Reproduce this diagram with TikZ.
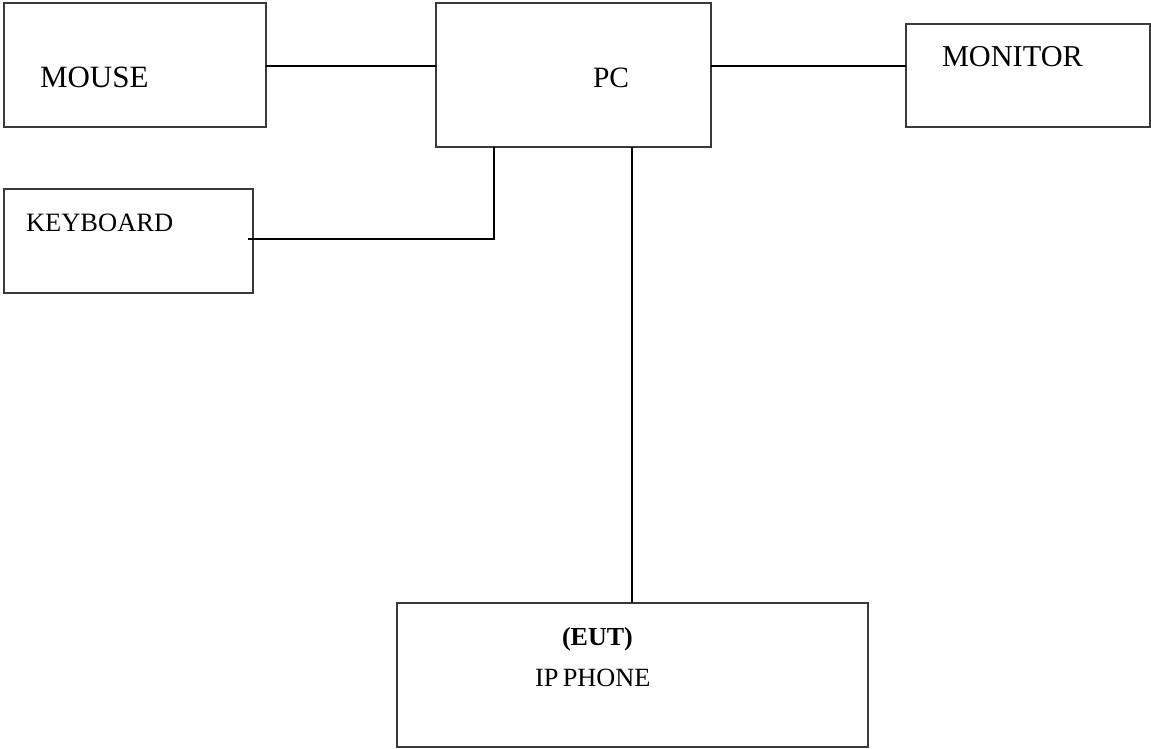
\documentclass[tikz,border=0pt]{standalone}
\usepackage{fontspec}
\setmainfont{Liberation Serif}
\definecolor{boxgray}{HTML}{3A3A3A}
\begin{document}
\begin{tikzpicture}[x=1pt,y=-1pt,
  box/.style={draw=boxgray, line width=1.3pt, inner sep=0pt, outer sep=0pt},
  lbl/.style={inner sep=0pt, outer sep=0pt, anchor=base west, text=black},
  wire/.style={draw=black, line width=1.4pt}]
\useasboundingbox (0,0) rectangle (1151,749);
% boxes
\node[box, minimum width=262pt, minimum height=124pt] (mouse) at (135,65) {};
\node[box, minimum width=275pt, minimum height=144pt] (pc) at (573.5,75) {};
\node[box, minimum width=244pt, minimum height=103pt] (monitor) at (1028,75.5) {};
\node[box, minimum width=249pt, minimum height=104pt] (kb) at (128.5,241) {};
\node[box, line width=1.9pt, minimum width=471pt, minimum height=144pt] (phone) at (632.5,675) {};
% labels
\node[lbl, font=\fontsize{31}{31}\selectfont] (mousetxt) at (40,88) {MOUSE};
\node[lbl, font=\fontsize{29.5}{30}\selectfont] (pctxt) at (593,88) {PC};
\node[lbl, font=\fontsize{30.3}{30}\selectfont] (montxt) at (942,67) {MONITOR};
\node[lbl, font=\fontsize{26.5}{27}\selectfont] (kbtxt) at (26,231) {KEYBOARD};
\node[lbl, font=\fontsize{26}{27}\selectfont\bfseries] (euttxt) at (562,645) {(EUT)};
\node[lbl, font=\fontsize{26.3}{27}\selectfont] (phonetxt) at (535,686) {IP\,PHONE};
% connector coordinates
\coordinate (wy) at (0,66);
\coordinate (kbj) at (494,239);
\coordinate (kbend) at (248,239);
\coordinate (phx) at (632,0);
% connectors
\draw[wire] (mouse.east |- wy) -- (pc.west |- wy);
\draw[wire] (pc.east |- wy) -- (monitor.west |- wy);
\draw[wire] (pc.south -| kbj) -- (kbj) -- (kbend);
\draw[wire] (pc.south -| phx) -- (phone.north -| phx);
\end{tikzpicture}
\end{document}
